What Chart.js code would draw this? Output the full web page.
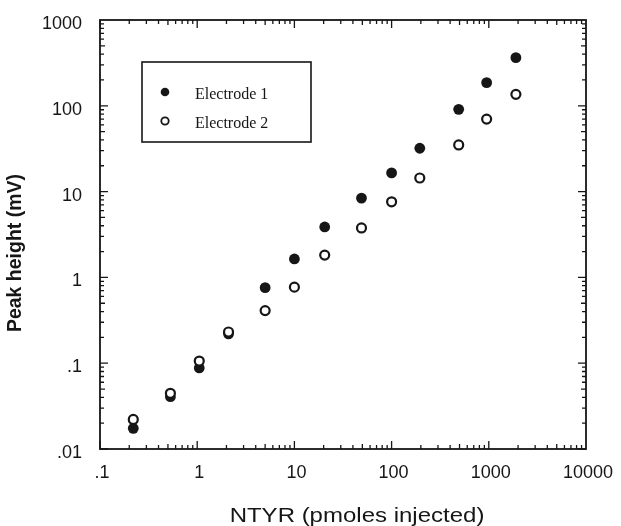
<!DOCTYPE html>
<html>
<head>
<meta charset="utf-8">
<script src="https://cdn.jsdelivr.net/npm/chart.js@4.4.1/dist/chart.umd.min.js"></script>
<style>
html,body{margin:0;padding:0;background:#fff;}
#wrap{position:relative;width:621px;height:526px;}
</style>
</head>
<body>
<div id="wrap"><canvas id="c" width="621" height="526"></canvas></div>
<script>
// ---- data ----
const injected   = [0.22, 0.53, 1.05, 2.1, 5, 10, 20.5, 49, 100, 195, 490, 950, 1900];
const electrode1 = [0.0174, 0.0407, 0.088, 0.22, 0.76, 1.64, 3.87, 8.4, 16.5, 32, 91, 186, 364];
const electrode2 = [0.0221, 0.0446, 0.106, 0.231, 0.41, 0.77, 1.82, 3.77, 7.6, 14.4, 35, 70, 136];
const seriesNames = ['Electrode 1', 'Electrode 2'];
const xTickValues = [0.1, 1, 10, 100, 1000, 10000];
const xTickLabels = ['.1', '1', '10', '100', '1000', '10000'];
const yTickValues = [0.01, 0.1, 1, 10, 100, 1000];
const yTickLabels = ['.01', '.1', '1', '10', '100', '1000'];
const xTitle = 'NTYR (pmoles injected)';
const yTitle = 'Peak height (mV)';

const INK = '#161616';
const SANS = '"Liberation Sans", Arial, Helvetica, sans-serif';
const SERIF = '"Liberation Serif", "Times New Roman", serif';

const toPoints = ys => injected.map((x, i) => ({x: x, y: ys[i]}));

// frame + inward tick marks on all four sides
const framePlugin = {
  id: 'frame',
  beforeDatasetsDraw(chart) {
    const {ctx, chartArea: a, scales} = chart;
    const xs = scales.x, ys = scales.y;
    ctx.save();
    ctx.strokeStyle = INK;
    ctx.lineWidth = 1.3;
    const xmin = Math.log10(xs.min), xmax = Math.log10(xs.max);
    for (let d = Math.round(xmin); d < Math.round(xmax); d++) {
      for (let k = 1; k <= 9; k++) {
        const px = xs.getPixelForValue(k * Math.pow(10, d));
        const len = k === 1 ? 8 : (k === 5 ? 5 : 4);
        ctx.beginPath();
        ctx.moveTo(px, a.bottom); ctx.lineTo(px, a.bottom - len);
        ctx.moveTo(px, a.top); ctx.lineTo(px, a.top + len);
        ctx.stroke();
      }
    }
    const ymin = Math.log10(ys.min), ymax = Math.log10(ys.max);
    for (let d = Math.round(ymin); d < Math.round(ymax); d++) {
      for (let k = 1; k <= 9; k++) {
        const py = ys.getPixelForValue(k * Math.pow(10, d));
        const len = k === 1 ? 8 : (k === 5 ? 5 : 4);
        ctx.beginPath();
        ctx.moveTo(a.left, py); ctx.lineTo(a.left + len, py);
        ctx.moveTo(a.right, py); ctx.lineTo(a.right - len, py);
        ctx.stroke();
      }
    }
    ctx.lineWidth = 1.8;
    ctx.strokeRect(a.left, a.top, a.right - a.left, a.bottom - a.top);
    ctx.restore();
  }
};

// in-plot boxed legend + axis titles
const annotPlugin = {
  id: 'annot',
  afterDraw(chart) {
    const {ctx, chartArea: a} = chart;
    ctx.save();
    const bx = a.left + 42, by = a.top + 42, bw = 169, bh = 80;
    ctx.strokeStyle = INK;
    ctx.lineWidth = 1.6;
    ctx.fillStyle = '#fff';
    ctx.fillRect(bx, by, bw, bh);
    ctx.strokeRect(bx, by, bw, bh);
    const rows = [by + 30, by + 59];
    chart.data.datasets.forEach((ds, i) => {
      const cy = rows[i];
      const cx = bx + 23;
      ctx.beginPath();
      ctx.arc(cx, cy, i === 0 ? 4.3 : 3.7, 0, Math.PI * 2);
      ctx.fillStyle = ds.backgroundColor;
      ctx.fill();
      if (ds.borderWidth > 0) {
        ctx.lineWidth = 1.8;
        ctx.strokeStyle = ds.borderColor;
        ctx.stroke();
      }
      ctx.fillStyle = INK;
      ctx.font = '16px ' + SERIF;
      ctx.textAlign = 'left';
      ctx.textBaseline = 'middle';
      ctx.fillText(seriesNames[i], bx + 53, cy + 3);
    });
    ctx.fillStyle = INK;
    ctx.save();
    ctx.translate(16, 253);
    ctx.rotate(-Math.PI / 2);
    ctx.font = 'bold 19.5px ' + SANS;
    ctx.textAlign = 'center';
    ctx.textBaseline = 'middle';
    ctx.fillText(yTitle, 0, 0);
    ctx.restore();
    ctx.save();
    ctx.translate(357, 522);
    ctx.scale(1.2, 1);
    ctx.font = '20px ' + SANS;
    ctx.textAlign = 'center';
    ctx.textBaseline = 'alphabetic';
    ctx.fillText(xTitle, 0, 0);
    ctx.restore();
    ctx.restore();
  }
};

new Chart(document.getElementById('c'), {
  type: 'scatter',
  data: {
    datasets: [
      {
        label: seriesNames[0],
        data: toPoints(electrode1),
        pointStyle: 'circle',
        pointRadius: 5.4,
        pointHoverRadius: 5.4,
        backgroundColor: INK,
        borderColor: INK,
        borderWidth: 0,
        order: 1
      },
      {
        label: seriesNames[1],
        data: toPoints(electrode2),
        pointStyle: 'circle',
        pointRadius: 4.5,
        pointHoverRadius: 4.5,
        backgroundColor: '#ffffff',
        borderColor: INK,
        borderWidth: 2.2,
        order: 0
      }
    ]
  },
  options: {
    responsive: false,
    animation: false,
    devicePixelRatio: 1,
    layout: {padding: {left: 0, right: 35, top: 20, bottom: 0}},
    plugins: {legend: {display: false}, tooltip: {enabled: false}},
    events: [],
    scales: {
      x: {
        type: 'logarithmic',
        min: 0.1,
        max: 10000,
        grid: {display: false, drawTicks: false},
        border: {display: false},
        afterBuildTicks: s => { s.ticks = xTickValues.map(v => ({value: v})); },
        afterFit: s => { s.height = 77; s.paddingLeft = 0; s.paddingRight = 0; },
        ticks: {
          autoSkip: false,
          maxRotation: 0,
          padding: 13,
          labelOffset: 2,
          color: INK,
          font: {family: SANS, size: 18},
          callback: (v, i) => xTickLabels[i]
        }
      },
      y: {
        type: 'logarithmic',
        min: 0.01,
        max: 1000,
        grid: {display: false, drawTicks: false},
        border: {display: false},
        afterBuildTicks: s => { s.ticks = yTickValues.map(v => ({value: v})); },
        afterFit: s => { s.width = 100; s.paddingTop = 0; s.paddingBottom = 0; },
        ticks: {
          autoSkip: false,
          padding: 18,
          labelOffset: 4,
          color: INK,
          font: {family: SANS, size: 18},
          callback: (v, i) => yTickLabels[i]
        }
      }
    }
  },
  plugins: [framePlugin, annotPlugin]
});
</script>
</body>
</html>
